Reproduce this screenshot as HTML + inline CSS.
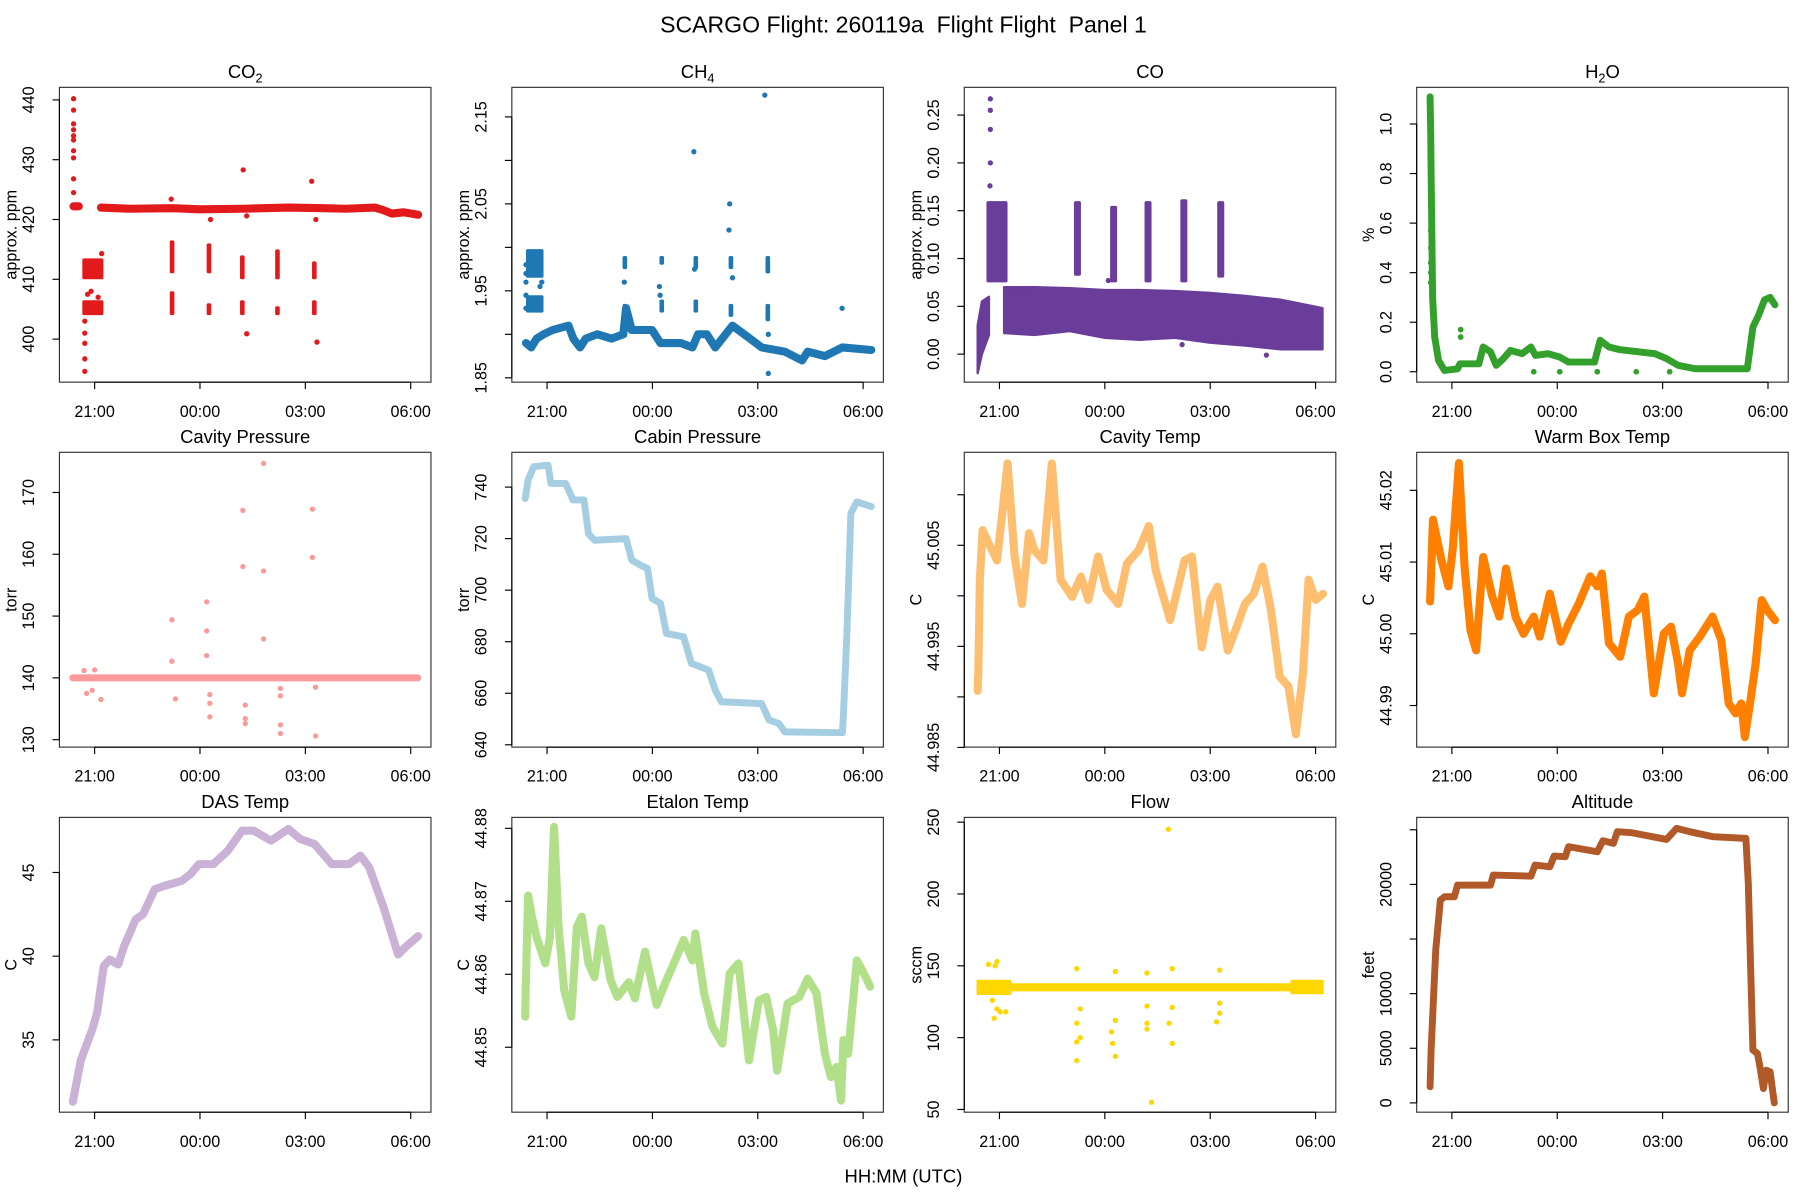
<!DOCTYPE html>
<html><head><meta charset="utf-8"><title>SCARGO Flight Panel 1</title>
<style>
html,body{margin:0;padding:0;background:#fff;}
svg{display:block;font-family:"Liberation Sans",Arial,sans-serif;}
</style></head>
<body>
<svg id="chart" xmlns="http://www.w3.org/2000/svg" width="1800" height="1200" viewBox="0 0 1560 1040">
<rect x="0" y="0" width="1560" height="1040" fill="#fff"/>
<text x="783" y="28" font-size="20" text-anchor="middle" style="white-space:pre" xml:space="preserve">SCARGO Flight: 260119a  Flight Flight  Panel 1</text>
<text x="783" y="1025" font-size="16" text-anchor="middle">HH:MM (UTC)</text>
</svg>
<script>
// times: hours after 21:00 UTC
// ---- CO2 ----
const co2MainT=[0.18,1,2.23,3,4.2,5.52,6.5,7.16,7.98,8.2,8.47,8.8,9.21];
const co2MainV=[422.0,421.8,421.9,421.7,421.8,422.0,421.9,421.8,422.0,421.6,421.0,421.2,420.8];
const co2EarlyT=[-0.6,-0.45];
const co2EarlyV=[422.2,422.2];
const co2SegT=[-0.05,-0.05,2.2,2.2,3.25,3.25,4.2,4.2,5.2,5.2,6.25,6.25];
const co2SegLo=[410,404,411,404,411,404,410,404,410,404,410,404];
const co2SegHi=[413.5,406.5,416.5,408,416,406,414,406.5,415,405.5,413,406.5];
const co2SegDur=[0.6,0.6,0.12,0.12,0.12,0.12,0.12,0.12,0.12,0.12,0.12,0.12];
const co2DotT=[-0.6,-0.6,-0.6,-0.6,-0.6,-0.6,-0.6,-0.6,-0.6,-0.6,-0.28,-0.28,-0.28,-0.28,-0.28,-0.2,0.2,4.23,6.18,2.18,3.3,4.33,6.3,4.33,6.33,-0.1,0.1];
const co2DotV=[440.2,438.3,436,435,434,433.3,431.5,430.3,426.8,424.5,403,401,399.3,396.7,394.6,407.5,414.3,428.3,426.4,423.4,420,420.6,420,400.9,399.5,408,407];
// ---- CH4 ----
const ch4T=[-0.6,-0.45,-0.3,-0.1,0.16,0.61,0.75,0.94,1.1,1.43,1.84,2.17,2.25,2.41,2.99,3.23,3.81,4.14,4.3,4.55,4.79,5.28,5.78,6.11,6.77,7.26,7.42,7.91,8.41,9.23];
const ch4V=[1.89,1.885,1.895,1.90,1.905,1.91,1.895,1.885,1.895,1.90,1.895,1.90,1.93,1.905,1.905,1.89,1.89,1.885,1.90,1.90,1.885,1.91,1.895,1.885,1.88,1.87,1.88,1.875,1.885,1.882];
const ch4SegT=[-0.35,-0.35,2.2,2.2,3.25,3.25,4.22,4.22,5.22,5.22,6.27,6.27];
const ch4SegLo=[1.965,1.925,1.975,1.92,1.98,1.925,1.975,1.925,1.975,1.92,1.97,1.915];
const ch4SegHi=[1.998,1.945,1.99,1.935,1.99,1.94,1.99,1.94,1.99,1.935,1.99,1.935];
const ch4SegDur=[0.5,0.5,0.1,0.1,0.1,0.1,0.1,0.1,0.1,0.1,0.1,0.1];
const ch4DotT=[-0.6,-0.6,-0.6,-0.6,-0.6,-0.2,5.2,5.18,4.18,6.2,6.3,8.4,3.2,3.22,6.3,2.2,5.28,4.2,-0.15];
const ch4DotV=[1.98,1.97,1.96,1.945,1.93,1.955,2.05,2.02,2.11,2.175,1.855,1.93,1.955,1.945,1.90,1.96,1.965,1.975,1.96];
// ---- CO ----
const coBandT=[0.13,1,2,3,4,5,6,7,8,9.2];
const coUpper=[0.07,0.07,0.069,0.067,0.067,0.066,0.064,0.061,0.057,0.048];
const coLower=[0.022,0.02,0.024,0.017,0.015,0.017,0.012,0.009,0.005,0.005];
const coEarlyT=[-0.62,-0.5,-0.3];
const coEarlyUp=[0.03,0.055,0.06];
const coEarlyLo=[-0.02,0.0,0.02];
const coSpikeT=[-0.07,2.22,3.25,4.23,5.25,6.3];
const coSpikeLo=[0.075,0.082,0.075,0.075,0.075,0.08];
const coSpikeHi=[0.16,0.16,0.155,0.16,0.162,0.16];
const coSpikeDur=[0.6,0.2,0.2,0.2,0.2,0.2];
const coDotT=[-0.26,-0.26,-0.26,-0.26,-0.27,3.1,5.2,7.6];
const coDotV=[0.267,0.255,0.235,0.2,0.176,0.077,0.01,-0.001];
// ---- H2O ----
const h2oT=[-0.62,-0.6,-0.59,-0.55,-0.49,-0.38,-0.21,0.16,0.23,0.77,0.89,1.1,1.26,1.45,1.67,2.0,2.25,2.38,2.74,3.07,3.32,4.06,4.22,4.47,4.79,5.78,6.11,6.44,6.93,8.41,8.57,8.74,8.9,9.06,9.2];
const h2oV=[1.11,0.95,0.8,0.3,0.14,0.046,0.005,0.012,0.032,0.032,0.1,0.08,0.026,0.05,0.086,0.073,0.1,0.066,0.073,0.059,0.039,0.039,0.127,0.1,0.089,0.073,0.053,0.026,0.012,0.012,0.18,0.23,0.29,0.30,0.27];
const h2oDotT=[-0.6,-0.6,-0.6,-0.6,-0.6,-0.6,-0.6,0.25,0.25,2.33,3.07,4.14,5.25,6.2];
const h2oDotV=[0.76,0.67,0.57,0.5,0.44,0.4,0.36,0.17,0.14,0.0,0.0,0.0,0.0,0.0];
// ---- Cavity Pressure ----
const cpT=[-0.62,9.2];
const cpV=[140,140];
const cpDotT=[4.81,4.22,6.2,4.22,4.81,6.2,2.2,3.19,3.19,3.19,4.81,2.2,-0.23,-0.07,0.18,2.3,3.28,3.28,3.28,4.29,4.29,4.29,5.29,5.29,5.29,5.29,6.29,6.29,-0.3,0.0];
const cpDotV=[174.7,167.1,167.3,158.0,157.3,159.5,149.4,152.3,147.6,143.6,146.3,142.7,137.5,138,136.5,136.6,137.3,135.9,133.7,135.6,133.4,132.6,138.3,137.1,132.4,131,130.6,138.5,141.2,141.3];
// ---- Cabin Pressure ----
const cabT=[-0.62,-0.54,-0.38,0.03,0.11,0.53,0.74,1.05,1.18,1.35,2.25,2.41,2.66,2.86,2.99,3.23,3.4,3.89,4.11,4.6,4.79,4.96,6.11,6.32,6.6,6.77,8.41,8.44,8.54,8.65,8.82,9.23];
const cabV=[735.6,742.7,747.9,748.5,741.4,741.4,735,735,722,719.4,720,711.7,709.7,708.4,696.8,694.9,683.2,681.9,671.6,669,661.2,656.7,656,649.6,648.3,645,644.7,652,684.5,729.8,734.3,732.4];
// ---- Cavity Temp ----
const ctT=[-0.62,-0.6,-0.56,-0.48,-0.31,-0.07,0.13,0.23,0.43,0.64,0.84,1.0,1.25,1.49,1.74,2.07,2.32,2.53,2.81,3.05,3.38,3.63,3.96,4.25,4.45,4.86,5.11,5.27,5.48,5.76,6.01,6.21,6.5,6.75,6.99,7.24,7.49,7.73,7.98,8.23,8.44,8.64,8.8,9.0,9.21];
const ctV=[44.9906,44.9926,45.0016,45.0065,45.0052,45.0035,45.0098,45.0131,45.0039,44.9992,45.0062,45.0045,45.0035,45.0131,45.0016,44.9999,45.0019,44.9996,45.0039,45.0006,44.9992,45.0032,45.0045,45.0069,45.0025,44.9976,45.0012,45.0035,45.0039,44.9949,44.9996,45.0009,44.9946,44.9969,44.9992,45.0002,45.0029,44.9986,44.992,44.991,44.9863,44.9923,45.0016,44.9996,45.0002];
// ---- Warm Box Temp ----
const wbT=[-0.62,-0.54,-0.3,-0.1,0.03,0.2,0.36,0.53,0.69,0.89,1.15,1.35,1.54,1.81,2.04,2.33,2.5,2.79,3.1,3.32,3.61,3.94,4.14,4.27,4.47,4.79,5.04,5.29,5.48,5.75,6.03,6.24,6.44,6.55,6.77,7.06,7.42,7.67,7.88,8.08,8.24,8.34,8.49,8.65,8.82,8.98,9.2];
const wbV=[45.0045,45.0159,45.0103,45.0066,45.0121,45.0238,45.0093,45.0005,44.9977,45.0107,45.0052,45.0024,45.0091,45.0024,45.0,45.0024,44.9996,45.0056,44.9989,45.0014,45.0042,45.008,45.0066,45.0084,44.9987,44.9968,45.0024,45.0033,45.0052,44.9917,45.0,45.001,44.9959,44.9917,44.9977,44.9996,45.0024,44.9991,44.9903,44.9889,44.9903,44.9856,44.9903,44.9959,45.0047,45.0033,45.0019];
// ---- DAS Temp ----
const dasT=[-0.62,-0.39,-0.07,0.07,0.26,0.43,0.67,0.84,1.17,1.38,1.71,1.99,2.48,2.73,2.97,3.38,3.79,4.2,4.53,5.02,5.52,5.85,6.26,6.75,7.24,7.57,7.82,8.23,8.64,8.88,9.21];
const dasV=[31.3,33.8,35.6,36.6,39.4,39.8,39.5,40.6,42.2,42.5,44.0,44.2,44.5,44.9,45.5,45.5,46.3,47.5,47.5,46.9,47.6,47.0,46.7,45.5,45.5,46.0,45.3,42.9,40.1,40.6,41.2];
// ---- Etalon Temp ----
const etT=[-0.62,-0.61,-0.54,-0.43,-0.3,-0.05,0.08,0.2,0.33,0.49,0.69,0.85,0.99,1.18,1.35,1.54,1.81,2.0,2.33,2.5,2.79,3.12,3.32,3.61,3.89,4.14,4.22,4.47,4.71,4.99,5.2,5.45,5.75,6.03,6.24,6.44,6.55,6.85,7.18,7.42,7.67,7.91,8.08,8.24,8.37,8.44,8.57,8.82,8.98,9.2];
const etV=[44.8542,44.8574,44.8708,44.8679,44.8651,44.8615,44.865,44.8802,44.8665,44.8578,44.8542,44.8665,44.8679,44.8615,44.8596,44.8663,44.8592,44.8569,44.8589,44.8567,44.8631,44.8558,44.8583,44.8615,44.8647,44.8619,44.8656,44.8574,44.8528,44.8505,44.8601,44.8615,44.8482,44.8564,44.8569,44.8523,44.8468,44.856,44.8569,44.8594,44.8574,44.8491,44.8459,44.8473,44.8427,44.851,44.8491,44.8619,44.8605,44.8583];
// ---- Flow ----
const flowBandT=[-0.62,0.3,0.32,8.3,8.32,9.2];
const flowUpper=[139.5,139.5,137,137,139.5,139.5];
const flowLower=[130.5,130.5,133,133,131,131];
const flowDotT=[-0.31,-0.07,-0.12,-0.2,-0.07,0.02,-0.15,0.18,2.2,2.2,2.2,2.3,2.3,3.19,3.22,3.3,3.3,3.3,4.2,4.2,4.2,4.33,4.81,4.83,4.92,4.92,4.92,6.18,6.27,6.27,6.27,2.2,4.2];
const flowDotV=[151,153,150,126,120,118,113.5,118,110,97,84,100,120,104,96,87,112,146,106,110,122,55,245,110,96,121,148,111,124,117,147,148,145];
// ---- Altitude ----
const altT=[-0.62,-0.59,-0.46,-0.33,-0.21,0.07,0.16,1.1,1.18,2.25,2.37,2.79,2.91,3.23,3.32,4.14,4.3,4.6,4.71,5.12,6.11,6.4,6.77,7.42,8.37,8.44,8.57,8.7,8.77,8.87,8.95,9.06,9.18];
const altV=[1468,4826,13985,18565,18870,18870,19939,19939,20855,20763,21771,21618,22595,22534,23450,22992,23999,23755,24823,24732,24121,25129,24823,24366,24213,20092,4826,4521,3300,1316,2995,2842,0];

const xTicks=[0,3,6,9];
const xTickLabels=["21:00","00:00","03:00","06:00"];

const NS="http://www.w3.org/2000/svg";
const svg=document.getElementById('chart');
const colL=[51.5,443.6,835.7,1227.8], rowT=[75.7,392,708.4], PW=322, PH=255.5;

function mk(tag,parent){const e=document.createElementNS(NS,tag);parent.appendChild(e);return e;}
function at(e,o){for(const k in o)e.setAttribute(k,o[k]);return e;}

function makePanel(i,slug,titleHTML,ymin,ymax,ticks,labels,ylab){
  const x0=colL[i%4], y0=rowT[Math.floor(i/4)];
  const g=mk('g',svg);
  
  
  const P={g,x0,y0,
    xs:t=>x0+30.5+t*30.44,
    ys:v=>y0+PH-(v-ymin)/(ymax-ymin)*PH};
  const box=mk('rect',g);
  at(box,{x:x0,y:y0,width:PW,height:PH,fill:'none',stroke:'#333','stroke-width':1});
  
  
  const tt=mk('text',g);
  at(tt,{x:x0+PW/2,y:y0-8,'font-size':16,'text-anchor':'middle'});
  tt.innerHTML=titleHTML;
  
  
  const xa=mk('g',g);
  
  
  const xl=mk('line',xa);
  at(xl,{x1:P.xs(xTicks[0]),x2:P.xs(xTicks[xTicks.length-1]),y1:y0+PH,y2:y0+PH,stroke:'#000'});
  xTicks.forEach((t,k)=>{
    const l=mk('line',xa);at(l,{x1:P.xs(t),x2:P.xs(t),y1:y0+PH,y2:y0+PH+6,stroke:'#000'});
    const tx=mk('text',xa);at(tx,{x:P.xs(t),y:y0+PH+30,'font-size':14,'text-anchor':'middle'});
    tx.textContent=xTickLabels[k];
    
    
  });
  const ya=mk('g',g);
  
  
  const yl=mk('line',ya);
  at(yl,{x1:x0,x2:x0,y1:P.ys(ticks[0]),y2:P.ys(ticks[ticks.length-1]),stroke:'#000'});
  ticks.forEach((v,k)=>{
    const l=mk('line',ya);at(l,{x1:x0,x2:x0-6,y1:P.ys(v),y2:P.ys(v),stroke:'#000'});
    if(labels[k]){
      const tx=mk('text',ya);const cx=x0-22,cy=P.ys(v);
      at(tx,{x:cx,y:cy,'font-size':14,'text-anchor':'middle',transform:`rotate(-90 ${cx} ${cy})`});
      tx.textContent=labels[k];
      
      
    }
  });
  const yt=mk('text',g);const cx=x0-37,cy=y0+PH/2;
  at(yt,{x:cx,y:cy,'font-size':14,'text-anchor':'middle',transform:`rotate(-90 ${cx} ${cy})`});
  yt.textContent=ylab;
  
  
  return P;
}
function line(P,T,V,c,w,name){
  const p=mk('polyline',P.g);
  at(p,{points:T.map((t,k)=>P.xs(t).toFixed(1)+','+P.ys(V[k]).toFixed(1)).join(' '),fill:'none',stroke:c,'stroke-width':w,'stroke-linejoin':'round','stroke-linecap':'round'});
  
  
}
function dots(P,T,V,c,r,name){
  T.forEach((t,k)=>{
    const d=mk('circle',P.g);at(d,{cx:P.xs(t),cy:P.ys(V[k]),r:r,fill:c});
    
    
  });
}
function band(P,T,U,L,c,name){
  const n=T.length;
  const pts=T.map((t,k)=>P.xs(t).toFixed(1)+','+P.ys(U[k]).toFixed(1));
  for(let k=n-1;k>=0;k--)pts.push(P.xs(T[k]).toFixed(1)+','+P.ys(L[k]).toFixed(1));
  const p=mk('polygon',P.g);at(p,{points:pts.join(' '),fill:c,stroke:c,'stroke-width':2,'stroke-linejoin':'round'});
  
  
}
function segs(P,T,Lo,Hi,D,c,name){
  T.forEach((t,k)=>{
    const xa=P.xs(t-D[k]/2),xb=P.xs(t+D[k]/2);
    const r=mk('rect',P.g);
    at(r,{x:xa,y:P.ys(Hi[k]),width:Math.max(4,xb-xa),height:Math.max(3,P.ys(Lo[k])-P.ys(Hi[k])),fill:c,rx:1.5});
    
    
  });
}

let P;
P=makePanel(0,'co2','CO<tspan font-size="11" dy="4">2</tspan>',392.8,442.1,[400,410,420,430,440],['400','410','420','430','440'],'approx. ppm');
line(P,co2MainT,co2MainV,'#E31A1C',7,'co2-series');
line(P,co2EarlyT,co2EarlyV,'#E31A1C',7,'co2-series-early');
segs(P,co2SegT,co2SegLo,co2SegHi,co2SegDur,'#E31A1C','co2-calibration-cluster');
dots(P,co2DotT,co2DotV,'#E31A1C',2.3,'co2-point');

P=makePanel(1,'ch4','CH<tspan font-size="11" dy="4">4</tspan>',1.845,2.184,[1.85,1.9,1.95,2.0,2.05,2.1,2.15],['1.85','','1.95','','2.05','','2.15'],'approx. ppm');
line(P,ch4T,ch4V,'#1F78B4',7,'ch4-series');
segs(P,ch4SegT,ch4SegLo,ch4SegHi,ch4SegDur,'#1F78B4','ch4-calibration-cluster');
dots(P,ch4DotT,ch4DotV,'#1F78B4',2.3,'ch4-point');

P=makePanel(2,'co','CO',-0.0293,0.279,[0,0.05,0.1,0.15,0.2,0.25],['0.00','0.05','0.10','0.15','0.20','0.25'],'approx. ppm');
band(P,coBandT,coUpper,coLower,'#6A3D9A','co-series-band');
band(P,coEarlyT,coEarlyUp,coEarlyLo,'#6A3D9A','co-series-early');
segs(P,coSpikeT,coSpikeLo,coSpikeHi,coSpikeDur,'#6A3D9A','co-calibration-spike');
dots(P,coDotT,coDotV,'#6A3D9A',2.3,'co-point');

P=makePanel(3,'h2o','H<tspan font-size="11" dy="4">2</tspan><tspan dy="-4">O</tspan>',-0.042,1.148,[0,0.2,0.4,0.6,0.8,1.0],['0.0','0.2','0.4','0.6','0.8','1.0'],'%');
line(P,h2oT,h2oV,'#33A02C',6,'h2o-series');
dots(P,h2oDotT,h2oDotV,'#33A02C',2.5,'h2o-point');

P=makePanel(4,'cavity-pressure','Cavity Pressure',128.8,176.5,[130,140,150,160,170],['130','140','150','160','170'],'torr');
line(P,cpT,cpV,'#FB9A99',6,'cavity-pressure-series');
dots(P,cpDotT,cpDotV,'#FB9A99',2.3,'cavity-pressure-point');

P=makePanel(5,'cabin-pressure','Cabin Pressure',639.1,753.5,[640,660,680,700,720,740],['640','660','680','700','720','740'],'torr');
line(P,cabT,cabV,'#A6CEE3',6,'cabin-pressure-series');

P=makePanel(6,'cavity-temp','Cavity Temp',44.98503,45.0142,[44.985,44.99,44.995,45.0,45.005,45.01],['44.985','','44.995','','45.005',''],'C');
line(P,ctT,ctV,'#FDBF6F',7,'cavity-temp-series');

P=makePanel(7,'warm-box-temp','Warm Box Temp',44.9842,45.0253,[44.99,45.0,45.01,45.02],['44.99','45.00','45.01','45.02'],'C');
line(P,wbT,wbV,'#FF7F00',7,'warm-box-temp-series');

P=makePanel(8,'das-temp','DAS Temp',30.68,48.29,[35,40,45],['35','40','45'],'C');
line(P,dasT,dasV,'#CAB2D6',7,'das-temp-series');

P=makePanel(9,'etalon-temp','Etalon Temp',44.8411,44.8815,[44.85,44.86,44.87,44.88],['44.85','44.86','44.87','44.88'],'C');
line(P,etT,etV,'#B2DF8A',7,'etalon-temp-series');

P=makePanel(10,'flow','Flow',48.1,253.3,[50,100,150,200,250],['50','100','150','200','250'],'sccm');
band(P,flowBandT,flowUpper,flowLower,'#FFD700','flow-series-band');
dots(P,flowDotT,flowDotV,'#FFD700',2.3,'flow-point');

P=makePanel(11,'altitude','Altitude',-852,26135,[0,5000,10000,15000,20000,25000],['0','5000','10000','','20000',''],'feet');
line(P,altT,altV,'#B15928',6,'altitude-series');
</script>
</body></html>
